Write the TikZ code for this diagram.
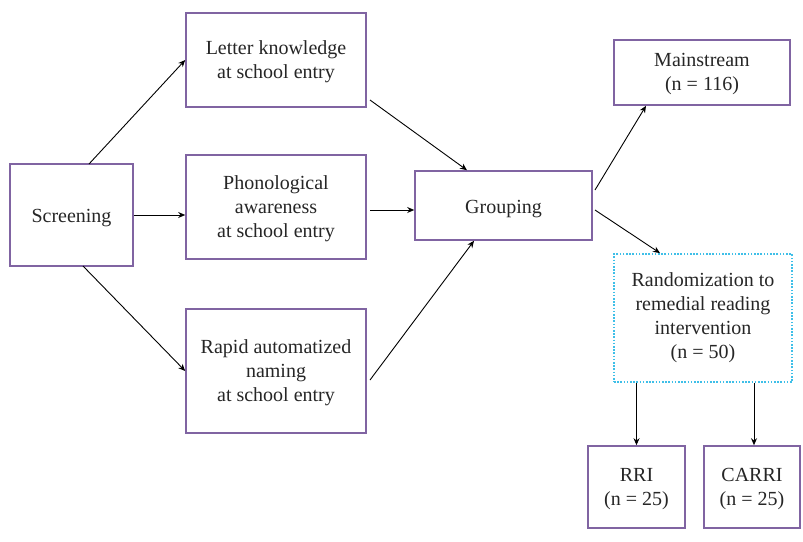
\documentclass[tikz,border=0pt]{standalone}
\usepackage{fontspec}
\setmainfont{Liberation Serif}
\usetikzlibrary{arrows.meta}
\definecolor{boxpurple}{HTML}{8064A2}
\definecolor{randcyan}{HTML}{3FBFE8}
\definecolor{txtgray}{HTML}{262626}
\begin{document}
\begin{tikzpicture}[x=1pt,y=-1pt,
  box/.style={draw=boxpurple,line width=1.6pt,fill=white,inner sep=0pt,align=center,
    font=\fontsize{20}{24}\selectfont,text=txtgray,text depth=1pt},
  dotbox/.style={draw=randcyan,line width=1.8pt,dash pattern=on 1.6pt off 1.6pt,inner sep=0pt,
    align=center,font=\fontsize{20}{24}\selectfont,text=txtgray},
  link/.style={draw=black,line width=0.9pt,-{Stealth[length=7pt,width=6pt]}}]
\useasboundingbox (0,0) rectangle (803,541);
\fill[white] (0,0) rectangle (803,541);
% boxes: centres and sizes in picture units
\node[box,minimum width=123,minimum height=102] (scr) at (71.5,215) {\raisebox{-3pt}{Screening}};
\node[box,minimum width=180,minimum height=94] (let) at (276,60) {Letter knowledge\\at school entry};
\node[box,minimum width=180,minimum height=104] (pho) at (276,207) {Phonological\\awareness\\at school entry};
\node[box,minimum width=180,minimum height=124] (ran) at (276,371) {Rapid automatized\\naming\\at school entry};
\node[box,minimum width=177,minimum height=69] (grp) at (503.5,205.5) {\raisebox{-3pt}{Grouping}};
\node[box,minimum width=176,minimum height=65] (mai) at (702,72.5) {Mainstream\\(n = 116)};
\node[dotbox,minimum width=178,minimum height=128] (rnd) at (703,318) {Randomization to\\remedial reading\\intervention\\(n = 50)};
\node[box,minimum width=97,minimum height=82] (rri) at (636.5,487) {RRI\\(n = 25)};
\node[box,minimum width=96,minimum height=82] (car) at (752,487) {CARRI\\(n = 25)};
% connectors
\coordinate (s1) at (89,164);
\coordinate (s3) at (83,266);
\draw[link] (s1) -- (let.west);
\draw[link] (scr.east) -- (scr.east -| pho.west);
\draw[link] (s3) -- (ran.west);
\draw[link] (370,100) -- (grp.north -| 467,0);
\draw[link] (370,210) -- (grp.west |- 0,210);
\draw[link] (370,380) -- (grp.south -| 474,0);
\draw[link] (595,190) -- (mai.south -| 646,0);
\draw[link] (595,210) -- (rnd.north -| 660,0);
\draw[link] (rnd.south -| rri) -- (rri.north);
\draw[link] (rnd.south -| 754,0) -- (car.north -| 754,0);
\end{tikzpicture}
\end{document}
